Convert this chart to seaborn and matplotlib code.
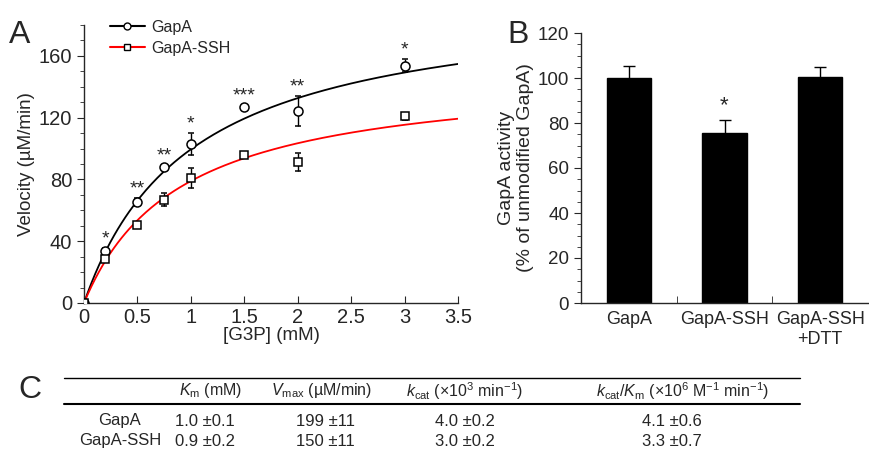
import seaborn as sns
import matplotlib.pyplot as plt
import numpy as np
import pandas as pd
from matplotlib.ticker import MultipleLocator

# panel A data
conc = [0, 0.2, 0.5, 0.75, 1, 1.5, 2, 3]
v_gapa = [0, 33.4, 65.3, 88.2, 102.9, 127.2, 124.4, 153.7]
e_gapa = [0, 2, 2.6, 1, 7, 1, 9.5, 4]
v_ssh = [0, 28.7, 50.7, 67, 80.9, 96, 91.2, 120.8]
e_ssh = [0, 2, 1, 4.5, 6.3, 1.5, 5.7, 2.5]
stars = ["", "*", "**", "**", "*", "***", "**", "*"]

# panel B data
groups = ["GapA", "GapA-SSH", "GapA-SSH\n+DTT"]
activity = [100, 75.5, 100.5]
act_err = [5.5, 6, 4.5]

# panel C table
enzymes = ["GapA", "GapA-SSH"]
km = [1.0, 0.9]
km_err = [0.1, 0.2]
vmax = [199, 150]
vmax_err = [11, 11]
kcat = [4.0, 3.0]
kcat_err = [0.2, 0.2]
eff = [4.1, 3.3]
eff_err = [0.6, 0.7]

sns.set_style("ticks")
plt.rcParams["font.family"] = ["Liberation Sans", "DejaVu Sans"]
plt.rcParams["mathtext.fontset"] = "custom"
plt.rcParams["mathtext.rm"] = "Liberation Sans"
plt.rcParams["mathtext.it"] = "Liberation Sans:italic"
plt.rcParams["axes.linewidth"] = 1.0

fig = plt.figure(figsize=(8.69, 4.51), dpi=100)
W, H = 869, 451
def box(l, t, r, b):
    return [l / W, 1 - b / H, (r - l) / W, (b - t) / H]

# ---- A ----
ax = fig.add_axes(box(84, 25, 458, 303))
xs = np.linspace(0, 3.5, 200)
fit = pd.DataFrame({"x": np.concatenate([xs, xs]),
                    "v": np.concatenate([vmax[0] * xs / (km[0] + xs), vmax[1] * xs / (km[1] + xs)]),
                    "g": ["GapA"] * len(xs) + ["GapA-SSH"] * len(xs)})
sns.lineplot(data=fit, x="x", y="v", hue="g", palette=["black", "red"], lw=1.3, ax=ax, legend=False)
ax.errorbar(conc, v_gapa, yerr=e_gapa, fmt="o", mfc="white", mec="black", color="black",
            ms=6.5, mew=1.1, capsize=2.5, elinewidth=1, zorder=3)
ax.errorbar(conc, v_ssh, yerr=e_ssh, fmt="s", mfc="white", mec="black", color="black",
            ms=6, mew=1.1, capsize=2.5, elinewidth=1, zorder=3)
for x, y, e, s in zip(conc, v_gapa, e_gapa, stars):
    if s:
        ax.text(x, y + e + 0.5, s, ha="center", va="bottom", fontsize=14)
ax.plot([], [], "-o", color="black", mfc="white", ms=5, label="GapA")
ax.plot([], [], "-s", color="red", mfc="white", mec="black", ms=5, label="GapA-SSH")
ax.legend(loc="upper left", bbox_to_anchor=(0.03, 1.07), frameon=False, fontsize=11.5,
          handlelength=2.2, handletextpad=0.4, labelspacing=0.35)
ax.set_xlim(0, 3.5)
ax.set_ylim(0, 180)
ax.set_xticks(np.arange(0, 3.51, 0.5))
ax.set_xticklabels(["0", "0.5", "1", "1.5", "2", "2.5", "3", "3.5"])
ax.set_yticks([0, 40, 80, 120, 160])
ax.yaxis.set_minor_locator(MultipleLocator(10))
ax.tick_params(axis="x", direction="in", labelsize=14.5, length=5)
ax.tick_params(axis="y", direction="out", labelsize=14.5, length=5)
ax.tick_params(axis="y", which="minor", length=3)
ax.set_xlabel("[G3P] (mM)", fontsize=13.5, labelpad=0)
ax.set_ylabel("Velocity (µM/min)", fontsize=13.5, labelpad=3)
sns.despine(ax=ax)
fig.text(9 / W, 1 - 43 / H, "A", fontsize=23)

# ---- B ----
bx = fig.add_axes(box(581, 33, 868, 303))
bdf = pd.DataFrame({"group": groups, "act": activity})
sns.barplot(data=bdf, x="group", y="act", color="black", edgecolor="black", width=0.46,
            errorbar=None, ax=bx, saturation=1)
bx.errorbar(range(3), activity, yerr=act_err, fmt="none", ecolor="black", capsize=4, elinewidth=1)
bx.text(1, activity[1] + act_err[1] + 1.5, "*", ha="center", va="bottom", fontsize=16)
bx.set_xlim(-0.5, 2.5)
bx.set_ylim(0, 120)
bx.set_yticks(range(0, 121, 20))
bx.yaxis.set_minor_locator(MultipleLocator(5))
bx.set_xticks([0.5, 1.5], minor=True)
bx.tick_params(axis="x", which="major", length=0, labelsize=13, pad=6)
bx.tick_params(axis="x", which="minor", direction="in", length=5)
bx.tick_params(axis="y", labelsize=13.5, length=5)
bx.tick_params(axis="y", which="minor", length=3)
bx.set_xlabel("")
bx.set_ylabel("GapA activity\n(% of unmodified GapA)", fontsize=14, labelpad=3, linespacing=1.15)
sns.despine(ax=bx)
fig.text(507 / W, 1 - 43 / H, "B", fontsize=23)

# ---- C ----
fig.text(18 / W, 1 - 398 / H, "C", fontsize=23)
tfs = 11.5
def hline(y, lw=1.0):
    fig.add_artist(plt.Line2D([64 / W, 800 / W], [1 - y / H, 1 - y / H], color="black", lw=lw))
hline(378)
hline(404, 1.5)
heads = [r"$K_{\rm m}$ (mM)", r"$V_{\rm max}$ (µM/min)", r"$k_{\rm cat}$ (×10$^{3}$ min$^{-1}$)",
         r"$k_{\rm cat}/K_{\rm m}$ (×10$^{6}$ M$^{-1}$ min$^{-1}$)"]
hx = [211, 322, 465, 683]
vx = [205, 325, 465, 672]
for x, h in zip(hx, heads):
    fig.text(x / W, 1 - 391 / H, h, ha="center", va="center", fontsize=tfs)
for i, name in enumerate(enzymes):
    y = 1 - (421 + 20 * i) / H
    fig.text(120 / W, y, name, ha="center", va="center", fontsize=tfs + 0.5)
    vals = [f"{km[i]:.1f} ±{km_err[i]:.1f}", f"{vmax[i]} ±{vmax_err[i]}",
            f"{kcat[i]:.1f} ±{kcat_err[i]:.1f}", f"{eff[i]:.1f} ±{eff_err[i]:.1f}"]
    for x, v in zip(vx, vals):
        fig.text(x / W, y, v, ha="center", va="center", fontsize=tfs + 0.5)

fig.savefig("out.png", dpi=100)
